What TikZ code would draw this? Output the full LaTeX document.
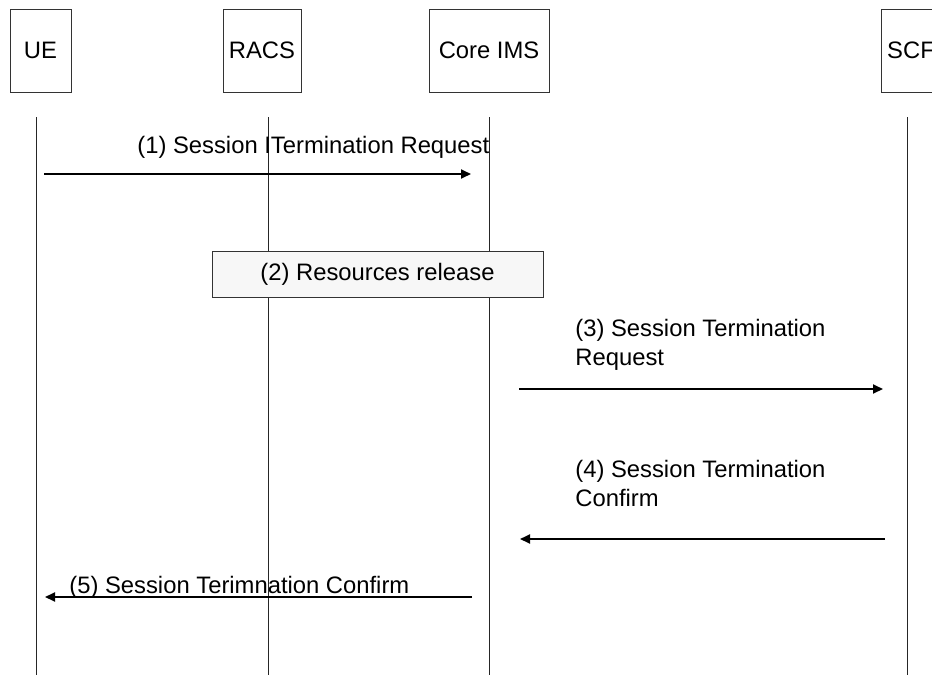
\documentclass[tikz,border=0pt]{standalone}
\usepackage{fontspec}
\setmainfont{Liberation Sans}
\usetikzlibrary{arrows.meta}

\begin{document}
\begin{tikzpicture}[
x=0.5pt, y=-0.5pt,
entity/.style={
  draw=black!80,
  line width=0.5pt,
  minimum height=41.5pt,
  inner sep=0pt,
  font=\fontsize{11.9}{14}\selectfont
},
lifeline/.style={black!85,line width=0.5pt},
msg/.style={-{Triangle[length=5pt,width=4.5pt]},black,line width=0.9pt},
msgnote/.style={anchor=base west,inner sep=0pt,align=left,font=\fontsize{11.9}{14.5}\selectfont},
action/.style={
  draw=black!80,
  fill=black!3,
  line width=0.5pt,
  minimum width=165.5pt,
  minimum height=23pt,
  font=\fontsize{11.9}{14}\selectfont
}
]
\useasboundingbox (0,0) rectangle (932,675);
\clip (0,0) rectangle (932,675);

\node (ue)   at (40.5,50.5) [entity,minimum width=30.5pt] {UE};
\node (racs) at (262,50.5)  [entity,minimum width=39pt]   {RACS};
\node (ims)  at (489,50.5)  [entity,minimum width=60pt]   {Core IMS};
\node (scf)  at (911,50.5)  [entity,minimum width=30pt]   {SCF};

\coordinate (ue-a)   at (36,117);  \coordinate (ue-b)   at (36,675);
\coordinate (racs-a) at (268,117); \coordinate (racs-b) at (268,675);
\coordinate (ims-a)  at (489,117); \coordinate (ims-b)  at (489,675);
\coordinate (scf-a)  at (907,117); \coordinate (scf-b)  at (907,675);

\draw [lifeline] (ue-a) -- (ue-b);
\draw [lifeline] (racs-a) -- (racs-b);
\draw [lifeline] (ims-a) -- (ims-b);
\draw [lifeline] (scf-a) -- (scf-b);

\coordinate (m1s) at (44,174);  \coordinate (m1e) at (471,174);
\coordinate (m3s) at (519,389); \coordinate (m3e) at (883,389);
\coordinate (m4s) at (885,539); \coordinate (m4e) at (520,539);
\coordinate (m5s) at (472,597); \coordinate (m5e) at (45,597);

\draw [msg] (m1s) -- (m1e);
\node (n1) at (137,153) [msgnote] {(1) Session ITermination Request};

\node (res) at (377.5,274) [action] {(2) Resources release};

% two-line notes: base is the last line
\draw [msg] (m3s) -- (m3e);
\node (n3) at (575,365) [msgnote] {(3) Session Termination\\Request};

\draw [msg] (m4s) -- (m4e);
\node (n4) at (575,506) [msgnote] {(4) Session Termination\\Confirm};

\draw [msg] (m5s) -- (m5e);
\node (n5) at (69,593) [msgnote] {(5) Session Terimnation Confirm};

\end{tikzpicture}
\end{document}
